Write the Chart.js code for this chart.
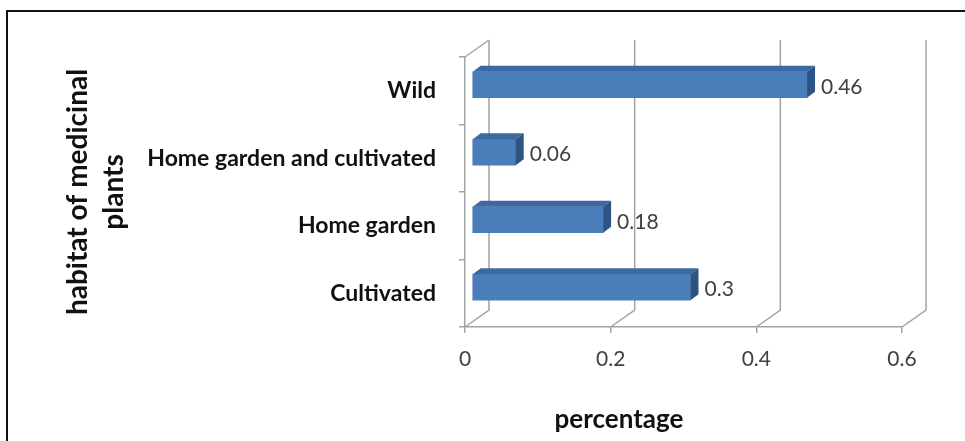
<!DOCTYPE html>
<html>
<head>
<meta charset="utf-8">
<script src="https://cdn.jsdelivr.net/npm/chart.js@4"></script>
<style>
  html, body { margin: 0; padding: 0; background: #fff; overflow: hidden; }
  #wrap { position: relative; width: 965px; height: 441px; overflow: hidden; background: #fff; }
  #frame { position: absolute; left: 6px; top: 10px; width: 1200px; height: 800px;
           border-left: 2px solid #111; border-top: 2px solid #111; box-sizing: border-box; }
  canvas { position: absolute; left: 0; top: 0; }
</style>
</head>
<body>
<div id="wrap">
  <div id="frame"></div>
  <canvas id="chart" width="965" height="441"></canvas>
</div>
<script>
// Habitat categories, listed top to bottom
const habitats = ['Wild', 'Home garden and cultivated', 'Home garden', 'Cultivated'];
// Share of medicinal plants per habitat
const percentages = [0.46, 0.06, 0.18, 0.3];
// Value axis ticks
const xTicks = [0, 0.2, 0.4, 0.6];

const yTitle = ['habitat of medicinal', 'plants'];
const xTitle = 'percentage';

// Drawing styles
const FONT = 'Lato';
const GRID = '#a3a3a3';
const FRONT = '#4a7ebb';
const TOP = '#3c699f';
const SIDE = '#2d5383';
const WALL = { dx: 24, dy: -17 };   // depth of the back wall
const SHIFT = { dx: 7, dy: -6 };    // bars sit a little behind the front plane
const DEPTH = { dx: 8, dy: -6 };    // thickness of each bar

const depthPlugin = {
  id: 'depth',
  beforeDatasetsDraw(chart) {
    const { ctx, chartArea: a, scales: { x } } = chart;
    ctx.save();
    ctx.strokeStyle = GRID;
    ctx.lineWidth = 1.5;
    ctx.beginPath();
    ctx.moveTo(a.left, a.top);
    ctx.lineTo(a.left + WALL.dx, a.top + WALL.dy);
    xTicks.forEach(v => {
      const px = x.getPixelForValue(v);
      ctx.moveTo(px, a.bottom);
      ctx.lineTo(px + WALL.dx, a.bottom + WALL.dy);
      ctx.lineTo(px + WALL.dx, a.top + WALL.dy);
    });
    ctx.stroke();
    ctx.restore();
    // front faces of the bars are drawn by the library, shifted into depth
    ctx.save();
    ctx.translate(SHIFT.dx, SHIFT.dy);
  },
  afterDatasetsDraw(chart) {
    const ctx = chart.ctx;
    ctx.restore();
    const meta = chart.getDatasetMeta(0);
    meta.data.forEach((bar, i) => {
      const p = bar.getProps(['x', 'y', 'base', 'height'], true);
      const top = p.y - p.height / 2 + SHIFT.dy;
      const bottom = p.y + p.height / 2 + SHIFT.dy;
      const x0 = p.base + SHIFT.dx;
      const x1 = p.x + SHIFT.dx;
      ctx.save();
      // top face
      ctx.fillStyle = TOP;
      ctx.beginPath();
      ctx.moveTo(x0, top);
      ctx.lineTo(x1, top);
      ctx.lineTo(x1 + DEPTH.dx, top + DEPTH.dy);
      ctx.lineTo(x0 + DEPTH.dx, top + DEPTH.dy);
      ctx.closePath();
      ctx.fill();
      // end face
      ctx.fillStyle = SIDE;
      ctx.beginPath();
      ctx.moveTo(x1, top);
      ctx.lineTo(x1 + DEPTH.dx, top + DEPTH.dy);
      ctx.lineTo(x1 + DEPTH.dx, bottom + DEPTH.dy);
      ctx.lineTo(x1, bottom);
      ctx.closePath();
      ctx.fill();
      // value label
      ctx.fillStyle = '#404040';
      ctx.font = `21px ${FONT}`;
      ctx.textAlign = 'left';
      ctx.textBaseline = 'middle';
      ctx.fillText(String(percentages[i]), x1 + DEPTH.dx + 6, p.y + SHIFT.dy + 2);
      ctx.restore();
    });
  },
  afterDraw(chart) {
    const { ctx, scales: { x } } = chart;
    ctx.save();
    ctx.fillStyle = '#111';
    ctx.font = `bold 26px ${FONT}`;
    ctx.textAlign = 'center';
    ctx.textBaseline = 'middle';
    ctx.fillText(xTitle, x.left + 154, x.bottom - 21);
    ctx.restore();
  }
};

new Chart(document.getElementById('chart'), {
  type: 'bar',
  data: {
    labels: habitats,
    datasets: [{
      data: percentages,
      backgroundColor: FRONT,
      borderWidth: 0,
      barThickness: 26,
      clip: false
    }]
  },
  options: {
    indexAxis: 'y',
    responsive: false,
    animation: false,
    layout: { padding: { top: 57, right: 63, bottom: 0, left: 0 } },
    plugins: { legend: { display: false }, tooltip: { enabled: false } },
    scales: {
      x: {
        min: 0,
        max: 0.6,
        afterBuildTicks: s => { s.ticks = xTicks.map(v => ({ value: v })); },
        afterFit: s => { s.height = 114; },
        ticks: {
          callback: v => String(v),
          font: { family: FONT, size: 21 },
          color: '#404040',
          padding: 14,
          maxRotation: 0
        },
        grid: { drawOnChartArea: false, drawTicks: true, tickLength: 6, color: GRID, lineWidth: 1.5 },
        border: { display: true, color: GRID, width: 1.5 }
      },
      y: {
        afterFit: s => { s.width = 465; },
        ticks: {
          font: { family: FONT, size: 23, weight: 'bold' },
          color: '#111',
          padding: 23,
          autoSkip: false
        },
        grid: { offset: true, drawOnChartArea: false, drawTicks: true, tickLength: 6, color: GRID, lineWidth: 1.5 },
        border: { display: true, color: GRID, width: 1.5 },
        title: {
          display: true,
          text: yTitle,
          font: { family: FONT, size: 28, weight: 'bold', lineHeight: 1.29 },
          color: '#111',
          padding: { top: 60, bottom: 0 }
        }
      }
    }
  },
  plugins: [depthPlugin]
});
</script>
</body>
</html>
